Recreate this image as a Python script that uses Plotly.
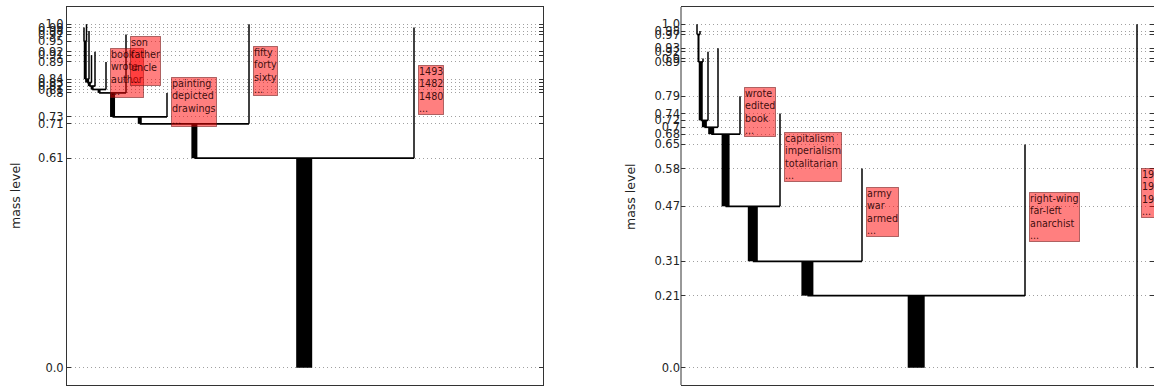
import plotly.graph_objects as go

# ---------------- data ----------------
# Left dendrogram: leaves (x position along the leaf order axis, top level, mass)
L_leaf_names = ["f1", "f2", "f3", "f4", "f5", "book", "son", "painting", "fifty", "y1493"]
L_leaf_x = [17, 19.5, 22, 24.5, 28, 39, 59, 100, 182, 347]
L_leaf_top = [0.99, 1.0, 0.98, 0.91, 0.92, 0.89, 0.97, 0.80, 1.0, 0.99]
L_leaf_parent = ["n95", "n95", "n84", "n83", "n82", "n81", "n80", "n73", "n71", "root"]
L_leaf_mass = [1.5, 1.5, 1.5, 1.5, 1.5, 1.5, 1.5, 1.5, 1.5, 1.5]
L_leaf_words = ["", "", "", "", "",
                "book<br>wrote<br>author<br>...",
                "son<br>father<br>uncle<br>...",
                "painting<br>depicted<br>drawings<br>...",
                "fifty<br>forty<br>sixty<br>...",
                "1493<br>1482<br>1480<br>..."]
# Left dendrogram: internal merges
L_node_names = ["root", "n71", "n73", "n80", "n81", "n82", "n83", "n84", "n95"]
L_node_level = [0.61, 0.71, 0.73, 0.80, 0.81, 0.82, 0.83, 0.84, 0.95]
L_node_parent = [None, "root", "n71", "n73", "n80", "n81", "n82", "n83", "n84"]
L_node_mass = [16, 6, 4, 5, 3, 3, 3, 4, 3]

# Right dendrogram: leaves
R_leaf_names = ["h1", "h2", "h3", "g2", "g3", "wrote", "capitalism", "army", "rightwing", "y19"]
R_leaf_x = [16, 19, 22, 27, 37, 59, 99, 181, 344, 456]
R_leaf_top = [1.0, 0.98, 0.90, 0.92, 0.93, 0.79, 0.74, 0.58, 0.65, 1.0]
R_leaf_parent = ["n97", "n97", "n89", "n72", "n70", "n68", "n47", "n31", "r21", None]
R_leaf_mass = [1.5, 1.5, 1.5, 1.5, 1.5, 1.5, 1.5, 1.5, 1.5, 1.5]
R_leaf_words = ["", "", "", "", "",
                "wrote<br>edited<br>book<br>...",
                "capitalism<br>imperialism<br>totalitarian<br>...",
                "army<br>war<br>armed<br>...",
                "right-wing<br>far-left<br>anarchist<br>...",
                "1914<br>1918<br>1939<br>..."]
# Right dendrogram: internal merges
R_node_names = ["r21", "n31", "n47", "n68", "n70", "n72", "n89", "n97"]
R_node_level = [0.21, 0.31, 0.47, 0.68, 0.70, 0.72, 0.89, 0.97]
R_node_parent = [None, "r21", "n31", "n47", "n68", "n70", "n72", "n89"]
R_node_mass = [17, 12, 10, 8, 6, 5, 4, 2]

Y_RANGE = [-0.05, 1.05]
L_XRANGE = [0, 476]
R_XRANGE = [0, 473]

# ---------------- figure ----------------
W, H = 1154, 387
L_DOM = [67 / W, 543 / W]
R_DOM = [681 / W, 1.0]

fig = go.Figure()


def build_tree(leaf_names, leaf_x, leaf_top, leaf_parent, leaf_mass, leaf_words,
               node_names, node_level, node_parent, node_mass, xa, ya):
    level, parent, mass, pos = {}, {}, {}, {}
    children = {}
    for n, x, t, p, m in zip(leaf_names, leaf_x, leaf_top, leaf_parent, leaf_mass):
        pos[n] = x
        level[n] = t
        parent[n] = p
        mass[n] = m
    for n, l, p, m in zip(node_names, node_level, node_parent, node_mass):
        level[n] = l
        parent[n] = p
        mass[n] = m
        children.setdefault(n, [])
    for n, p in parent.items():
        if p is not None:
            children.setdefault(p, []).append(n)

    def get_x(n):
        if n in pos:
            return pos[n]
        xs = [get_x(c) for c in children[n]]
        pos[n] = (min(xs) + max(xs)) / 2.0
        return pos[n]

    for n in list(parent.keys()):
        get_x(n)

    # vertical segments (width from mass)
    for n in parent:
        y0 = level[parent[n]] if parent[n] is not None else 0.0
        fig.add_trace(go.Scatter(
            x=[pos[n], pos[n]], y=[y0, level[n]], mode="lines",
            line=dict(color="black", width=mass[n]),
            xaxis=xa, yaxis=ya, hoverinfo="skip", showlegend=False))
    # horizontal segments
    hx, hy = [], []
    for n in node_names:
        cx = [pos[c] for c in children[n]]
        hx += [min(cx), max(cx), None]
        hy += [level[n], level[n], None]
    fig.add_trace(go.Scatter(
        x=hx, y=hy, mode="lines", line=dict(color="black", width=1.7),
        xaxis=xa, yaxis=ya, hoverinfo="skip", showlegend=False))

    # word-boxes next to labelled leaves
    for n, w in zip(leaf_names, leaf_words):
        if not w:
            continue
        y0 = level[parent[n]] if parent[n] is not None else 0.0
        fig.add_annotation(
            x=pos[n], y=(y0 + level[n]) / 2.0, xref=xa, yref=ya,
            text=w, showarrow=False, xanchor="left", yanchor="middle",
            align="left", xshift=4, yshift=3,
            font=dict(family="DejaVu Sans", size=9.6, color="rgba(40,0,0,0.9)"),
            bgcolor="rgba(255,0,0,0.5)", bordercolor="rgba(110,20,20,0.55)",
            borderwidth=1, borderpad=0)

    ticks = sorted(set(list(level.values()) + [0.0]))
    return ticks


L_ticks = build_tree(L_leaf_names, L_leaf_x, L_leaf_top, L_leaf_parent, L_leaf_mass, L_leaf_words,
                     L_node_names, L_node_level, L_node_parent, L_node_mass, "x", "y")
R_ticks = build_tree(R_leaf_names, R_leaf_x, R_leaf_top, R_leaf_parent, R_leaf_mass, R_leaf_words,
                     R_node_names, R_node_level, R_node_parent, R_node_mass, "x2", "y2")

tickfont = dict(family="DejaVu Sans", size=11.5, color="#222")
common_y = dict(range=Y_RANGE, ticks="inside", ticklen=4, tickcolor="#333",
                showgrid=True, gridcolor="#a0a0a0", griddash="1px,3px", gridwidth=1,
                zeroline=False, tickfont=tickfont, fixedrange=True)
common_x = dict(showticklabels=False, ticks="", showgrid=False, zeroline=False,
                showline=True, mirror=True, linecolor="#333", linewidth=1)

fig.update_layout(
    width=W, height=H,
    margin=dict(l=0, r=0, t=7, b=2),
    paper_bgcolor="white", plot_bgcolor="white",
    showlegend=False,
    xaxis=dict(domain=L_DOM, range=L_XRANGE, anchor="y", **common_x),
    yaxis=dict(domain=[0, 1], anchor="x", tickvals=L_ticks,
               ticktext=[str(round(v, 2)) for v in L_ticks],
               showline=True, mirror="ticks", linecolor="#333", linewidth=1, **common_y),
    xaxis2=dict(domain=R_DOM, range=R_XRANGE, anchor="y2", **common_x),
    yaxis2=dict(domain=[0, 1], anchor="x2", tickvals=R_ticks,
                ticktext=[str(round(v, 2)) for v in R_ticks],
                showline=False, mirror="ticks", linecolor="#333", linewidth=1, **common_y),
)

# left frame edge of the right panel (its right edge lies beyond the page)
fig.add_shape(type="line", xref="x2 domain", yref="y2 domain", x0=0, x1=0, y0=0, y1=1,
              line=dict(color="#333", width=1))

# y-axis titles
for xp in [15 / W, 630 / W]:
    fig.add_annotation(x=xp, y=0.5, xref="paper", yref="paper", text="mass level",
                       textangle=-90, showarrow=False, xanchor="center", yanchor="middle",
                       font=dict(family="DejaVu Sans", size=12.5, color="#222"))

fig.write_html("out.html")
